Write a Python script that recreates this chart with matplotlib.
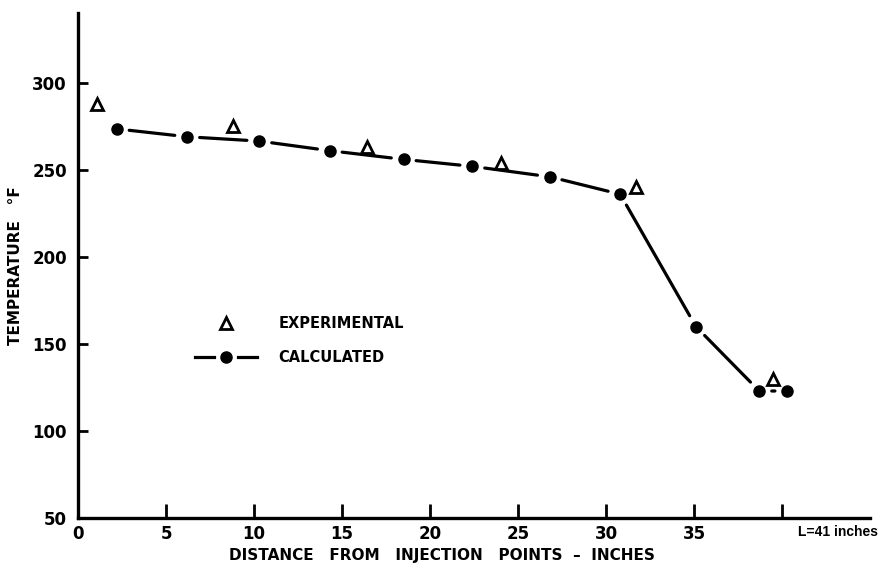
import matplotlib.pyplot as plt

# data
calc_x = [2.2, 6.2, 10.3, 14.3, 18.5, 22.4, 26.8, 30.8, 35.1, 38.7, 40.3]
calc_y = [273.5, 269, 266.5, 261, 256, 252, 246, 236, 160, 123, 123]
exp_x = [1.1, 8.8, 16.4, 24.0, 31.7, 39.5]
exp_y = [288, 275, 263, 254, 240, 130]

x_ticks = [0, 5, 10, 15, 20, 25, 30, 35, 40]
x_tick_labels = ['0', '5', '10', '15', '20', '25', '30', '35', '']
y_ticks = [50, 100, 150, 200, 250, 300]
end_label = 'L=41 inches'

plt.rcParams['font.family'] = ['DejaVu Sans']
plt.rcParams['font.weight'] = 'bold'

fig = plt.figure(figsize=(8.87, 5.70), dpi=100)
ax = fig.add_axes([0.088, 0.091, 0.893, 0.886])

ax.set_xlim(0, 45)
ax.set_ylim(50, 340)

# calculated curve: segments with small gaps at the dots
for i in range(len(calc_x) - 1):
  ax.annotate('', xy=(calc_x[i + 1], calc_y[i + 1]), xytext=(calc_x[i], calc_y[i]),
              arrowprops=dict(arrowstyle='-', lw=2.3, color='black',
                              shrinkA=9, shrinkB=9))
ax.plot(calc_x, calc_y, 'o', color='black', markersize=8, zorder=3)

# experimental points
ax.plot(exp_x, exp_y, '^', markerfacecolor='white', markeredgecolor='black',
        markeredgewidth=2, markersize=9, linestyle='none', zorder=3)

# hand drawn legend
ax.plot([0.187], [0.386], '^', transform=ax.transAxes, markerfacecolor='white',
        markeredgecolor='black', markeredgewidth=2, markersize=9)
ax.text(0.253, 0.386, 'EXPERIMENTAL', transform=ax.transAxes, va='center',
        fontsize=10.5, fontweight='bold')
ax.plot([0.148, 0.172], [0.319, 0.319], '-', transform=ax.transAxes, color='black', lw=2.3)
ax.plot([0.202, 0.226], [0.319, 0.319], '-', transform=ax.transAxes, color='black', lw=2.3)
ax.plot([0.187], [0.319], 'o', transform=ax.transAxes, color='black', markersize=8)
ax.text(0.253, 0.319, 'CALCULATED', transform=ax.transAxes, va='center',
        fontsize=10.5, fontweight='bold')

# axes styling
for side in ['top', 'right']:
  ax.spines[side].set_visible(False)
for side in ['left', 'bottom']:
  ax.spines[side].set_linewidth(2.4)

ax.set_xticks(x_ticks)
ax.set_xticklabels(x_tick_labels)
ax.set_yticks(y_ticks)
ax.tick_params(axis='both', direction='in', width=2, labelsize=12)
ax.tick_params(axis='x', length=10, pad=5)
ax.tick_params(axis='y', length=7, pad=8)
for lbl in ax.get_xticklabels() + ax.get_yticklabels():
  lbl.set_fontweight('bold')

ax.text(40.9, -0.014, end_label, transform=ax.get_xaxis_transform(), ha='left', va='top',
        fontsize=10, fontweight='bold', family='Liberation Sans')

ax.set_xlabel('DISTANCE   FROM   INJECTION   POINTS  \u2013  INCHES', fontsize=11, fontweight='bold')
ax.xaxis.set_label_coords(0.46, -0.06)
ax.set_ylabel('TEMPERATURE   \u00b0F', fontsize=11, fontweight='bold')
ax.yaxis.set_label_coords(-0.07, 0.5)

plt.savefig('out.png', dpi=100)
plt.close()
